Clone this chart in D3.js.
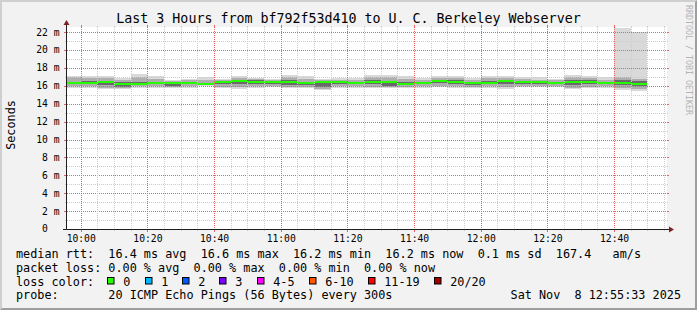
<!DOCTYPE html>
<html>
<head>
<meta charset="utf-8">
<script src="https://cdn.jsdelivr.net/npm/d3@7"></script>
<style>
  body { margin: 0; background: #f2f2f2; }
  svg text { font-family: "DejaVu Sans Mono", monospace; white-space: pre; }
</style>
</head>
<body>
<div id="chart"></div>
<script>
// bin end times (5 minute steps, 20 pings per bin)
const binEnd = ["10:00","10:05","10:10","10:15","10:20","10:25","10:30","10:35","10:40","10:45",
  "10:50","10:55","11:00","11:05","11:10","11:15","11:20","11:25","11:30","11:35",
  "11:40","11:45","11:50","11:55","12:00","12:05","12:10","12:15","12:20","12:25",
  "12:30","12:35","12:40","12:45","12:50"];

// rtt in ms
const median = [16.30,16.30,16.48,16.25,16.25,16.27,16.27,16.30,16.15,16.45,
  16.50,16.48,16.40,16.40,16.30,16.40,16.40,16.28,16.40,16.45,
  16.15,16.28,16.50,16.45,16.27,16.33,16.55,16.37,16.37,16.33,
  16.48,16.45,16.33,16.33,16.15];
const minRtt = [15.74,15.80,15.67,15.60,15.80,15.80,15.75,15.80,15.95,15.74,
  15.67,15.80,15.85,15.74,15.80,15.50,15.80,15.80,15.74,15.80,
  15.74,15.80,15.85,15.80,15.74,15.80,15.67,15.85,15.85,15.90,
  15.60,15.80,15.80,15.50,15.40];
const maxRtt = [17.15,17.04,17.15,16.85,17.30,17.07,16.70,16.78,16.96,16.78,
  17.04,16.90,16.78,17.22,17.04,16.78,16.90,16.85,17.26,17.22,
  17.04,16.85,17.07,17.15,16.90,17.07,17.04,16.96,16.96,16.78,
  17.26,17.15,16.96,22.45,21.98];
const p10 = [15.95,15.95,15.80,15.75,15.95,15.95,15.85,15.95,16.05,15.90,
  15.85,15.95,16.00,15.85,15.90,15.65,15.95,15.95,15.90,15.90,
  15.85,15.95,15.95,15.95,15.85,15.95,15.90,15.95,16.00,16.00,
  15.75,15.90,15.95,15.75,15.60];
const p90 = [16.95,16.85,16.90,16.60,17.00,16.75,16.55,16.60,16.70,16.65,
  16.90,16.75,16.65,17.00,16.80,16.60,16.70,16.65,17.00,16.95,
  16.75,16.65,16.85,16.90,16.70,16.85,16.85,16.75,16.70,16.60,
  17.00,16.90,16.70,16.95,16.75];
const q1 = [16.15,16.15,16.05,15.90,16.15,16.15,15.95,16.15,16.10,16.20,
  16.20,16.25,16.25,16.10,16.05,15.90,16.20,16.15,16.15,16.00,
  16.05,16.15,16.30,16.25,16.10,16.15,16.15,16.20,16.20,16.20,
  16.10,16.20,16.20,16.10,15.95];
const q3 = [16.45,16.50,16.55,16.45,16.40,16.40,16.35,16.40,16.35,16.55,
  16.70,16.60,16.50,16.60,16.45,16.50,16.55,16.45,16.60,16.55,
  16.45,16.40,16.70,16.70,16.40,16.50,16.65,16.55,16.50,16.45,
  16.60,16.60,16.45,16.65,16.55];

const yTickValues = [0, 2, 4, 6, 8, 10, 12, 14, 16, 18, 20, 22];
const xTickLabels = ["10:00","10:20","10:40","11:00","11:20","11:40","12:00","12:20","12:40"];

const lossLabels = ["0", "1", "2", "3", "4-5", "6-10", "11-19", "20/20"];
const lossColors = ["#26ff00", "#00b8ff", "#0059ff", "#7e00ff", "#ff00ff", "#ff5500", "#ff0000", "#a10000"];

const title = "Last 3 Hours from bf792f53d410 to U. C. Berkeley Webserver";
const legendLines = [
  "median rtt:  16.4 ms avg  16.6 ms max  16.2 ms min  16.2 ms now  0.1 ms sd  167.4   am/s",
  "packet loss: 0.00 % avg  0.00 % max  0.00 % min  0.00 % now",
  "loss color:",
  "probe:       20 ICMP Echo Pings (56 Bytes) every 300s"
];
const stamp = "Sat Nov  8 12:55:33 2025";

// layout
const W = 697, H = 310;
const X0 = 67, X1 = 667, Y0 = 229, Y1 = 27;

const parse = d3.timeParse("%Y-%m-%d %H:%M:%S");
const day = "2025-11-08 ";
const t = s => parse(day + s + (s.length === 5 ? ":00" : ""));

const x = d3.scaleTime()
  .domain([t("09:55:53"), t("12:55:53")])
  .range([X0, X1]);
const y = d3.scaleLinear()
  .domain([0, 22.57])
  .range([Y0, Y1]);

const svg = d3.select("#chart")
  .append("svg")
  .attr("width", W)
  .attr("height", H)
  .style("display", "block");

// background and shaded frame
svg.append("rect").attr("width", W).attr("height", H).attr("fill", "#f2f2f2");
svg.append("path").attr("d", `M0,0H${W}L${W - 2},2H2V${H - 2}L0,${H}Z`).attr("fill", "#cfcfcf");
svg.append("path").attr("d", `M${W},0V${H}H0L2,${H - 2}H${W - 2}V2Z`).attr("fill", "#9e9e9e");

// canvas
svg.append("rect")
  .attr("x", X0).attr("y", Y1)
  .attr("width", X1 - X0).attr("height", Y0 - Y1)
  .attr("fill", "#ffffff");

svg.append("clipPath").attr("id", "plot")
  .append("rect").attr("x", X0).attr("y", Y1).attr("width", X1 - X0).attr("height", Y0 - Y1);

// smoke
const bins = binEnd.map((e, i) => ({
  t1: t(e), t0: d3.timeMinute.offset(t(e), -5),
  med: median[i], lo: minRtt[i], hi: maxRtt[i],
  lo2: p10[i], hi2: p90[i], lo3: q1[i], hi3: q3[i]
}));

const data = svg.append("g").attr("clip-path", "url(#plot)").attr("shape-rendering", "crispEdges");
const bx0 = d => Math.round(Math.max(x(d.t0), X0));
const bx1 = d => Math.round(x(d.t1));

const layers = [["lo", "hi", "#d9d9d9"], ["lo2", "hi2", "#aeaeae"], ["lo3", "hi3", "#6a6a6a"]];
layers.forEach(([lk, hk, col]) => {
  data.append("g")
    .selectAll("rect")
    .data(bins)
    .enter().append("rect")
    .attr("x", bx0)
    .attr("width", d => bx1(d) - bx0(d))
    .attr("y", d => Math.round(y(d[hk])))
    .attr("height", d => Math.round(y(d[lk])) - Math.round(y(d[hk])))
    .attr("fill", col);
});

// median, coloured by loss (all 0 here)
data.append("g")
  .selectAll("rect")
  .data(bins)
  .enter().append("rect")
  .attr("x", bx0)
  .attr("width", d => bx1(d) - bx0(d))
  .attr("y", d => Math.round(y(d.med)) - 1)
  .attr("height", 2)
  .attr("fill", lossColors[0]);

// grid (drawn on top, like rrdtool)
const grid = svg.append("g");
const minorCol = "#cccccc", majorCol = "#f06060";

const yMinor = d3.range(0, 23, 1);
yMinor.forEach(v => {
  const major = v % 2 === 0;
  const yy = Math.round(y(v)) + 0.5;
  const col = major ? majorCol : minorCol;
  const ext = major ? 2 : 1;
  if (v > 0) {
    grid.append("line").attr("x1", X0).attr("x2", X1).attr("y1", yy).attr("y2", yy)
      .attr("stroke", col).attr("stroke-dasharray", "1,1");
  }
  grid.append("line").attr("x1", X0 - ext - 1).attr("x2", X0).attr("y1", yy).attr("y2", yy).attr("stroke", col);
  grid.append("line").attr("x1", X1).attr("x2", X1 + ext).attr("y1", yy).attr("y2", yy).attr("stroke", col);
});

const xMinor = x.ticks(d3.timeMinute.every(5));
xMinor.forEach(d => {
  const major = d.getMinutes() % 20 === 0;
  const xx = Math.round(x(d)) + 0.5;
  const col = major ? majorCol : minorCol;
  const ext = major ? 2 : 1;
  grid.append("line").attr("x1", xx).attr("x2", xx).attr("y1", Y1).attr("y2", Y0)
    .attr("stroke", col).attr("stroke-dasharray", "1,1");
  grid.append("line").attr("x1", xx).attr("x2", xx).attr("y1", Y0).attr("y2", Y0 + ext + 1).attr("stroke", col);
  grid.append("line").attr("x1", xx).attr("x2", xx).attr("y1", Y1 - ext).attr("y2", Y1).attr("stroke", col);
});

// axes with arrows
const axisCol = "#1f1f1f", arrowCol = "#801f1f";
svg.append("line").attr("x1", X0 - 4).attr("x2", X1 + 4).attr("y1", Y0 + 0.5).attr("y2", Y0 + 0.5)
  .attr("stroke", axisCol).attr("shape-rendering", "crispEdges");
svg.append("line").attr("x1", X0 - 0.5).attr("x2", X0 - 0.5).attr("y1", Y0 + 1).attr("y2", Y1 - 4)
  .attr("stroke", axisCol).attr("shape-rendering", "crispEdges");
svg.append("path").attr("d", `M${X1 + 7},${Y0 + 0.5}L${X1 + 2},${Y0 - 2.5}L${X1 + 2},${Y0 + 3.5}Z`).attr("fill", arrowCol);
svg.append("path").attr("d", `M${X0 - 0.5},${Y1 - 7}L${X0 - 3.5},${Y1 - 2}L${X0 + 2.5},${Y1 - 2}Z`).attr("fill", arrowCol);

// tick labels
const axisFont = "9.7px";
svg.append("g").selectAll("text")
  .data(yTickValues)
  .enter().append("text")
  .attr("xml:space", "preserve")
  .attr("x", 59.5)
  .attr("y", d => y(d) + 3.4)
  .attr("text-anchor", "end")
  .attr("font-size", axisFont)
  .attr("fill", "#000")
  .text(d => d === 0 ? "0  " : d + " m");

svg.append("g").selectAll("text")
  .data(xTickLabels)
  .enter().append("text")
  .attr("x", d => x(t(d)) + 0.5)
  .attr("y", 242)
  .attr("text-anchor", "middle")
  .attr("font-size", axisFont)
  .attr("fill", "#000")
  .text(d => d);

// title, unit, watermark
svg.append("text").attr("x", W / 2).attr("y", 23).attr("text-anchor", "middle")
  .attr("font-size", "13.3px").attr("fill", "#000").text(title);
svg.append("text").attr("transform", "translate(14.5,125) rotate(-90)").attr("text-anchor", "middle")
  .attr("font-size", "11.8px").attr("fill", "#000").text("Seconds");
svg.append("text").attr("transform", "translate(685.5,5) rotate(90)").attr("text-anchor", "start")
  .attr("font-size", "8.3px").attr("fill", "#b4b4b4").text("RRDTOOL / TOBI OETIKER");

// legend
const lineY = [258.3, 271.9, 285.5, 299.1];
const legFont = "11.8px", cw = 7.1;
legendLines.forEach((s, i) => {
  svg.append("text").attr("xml:space", "preserve").attr("x", 16).attr("y", lineY[i])
    .attr("font-size", legFont).attr("fill", "#000").text(s);
});
let bx = 107.5;
lossLabels.forEach((l, i) => {
  svg.append("rect").attr("x", bx).attr("y", lineY[2] - 8).attr("width", 6.5).attr("height", 6.5)
    .attr("fill", lossColors[i]).attr("stroke", "#000").attr("stroke-width", 1);
  svg.append("text").attr("x", bx + 15.7).attr("y", lineY[2])
    .attr("font-size", legFont).attr("fill", "#000").text(l);
  bx = Math.round(bx + 15.7 + l.length * cw + 14.2) + 0.5;
});
svg.append("text").attr("xml:space", "preserve").attr("x", 681).attr("y", lineY[3]).attr("text-anchor", "end")
  .attr("font-size", legFont).attr("fill", "#000").text(stamp);
</script>
</body>
</html>
